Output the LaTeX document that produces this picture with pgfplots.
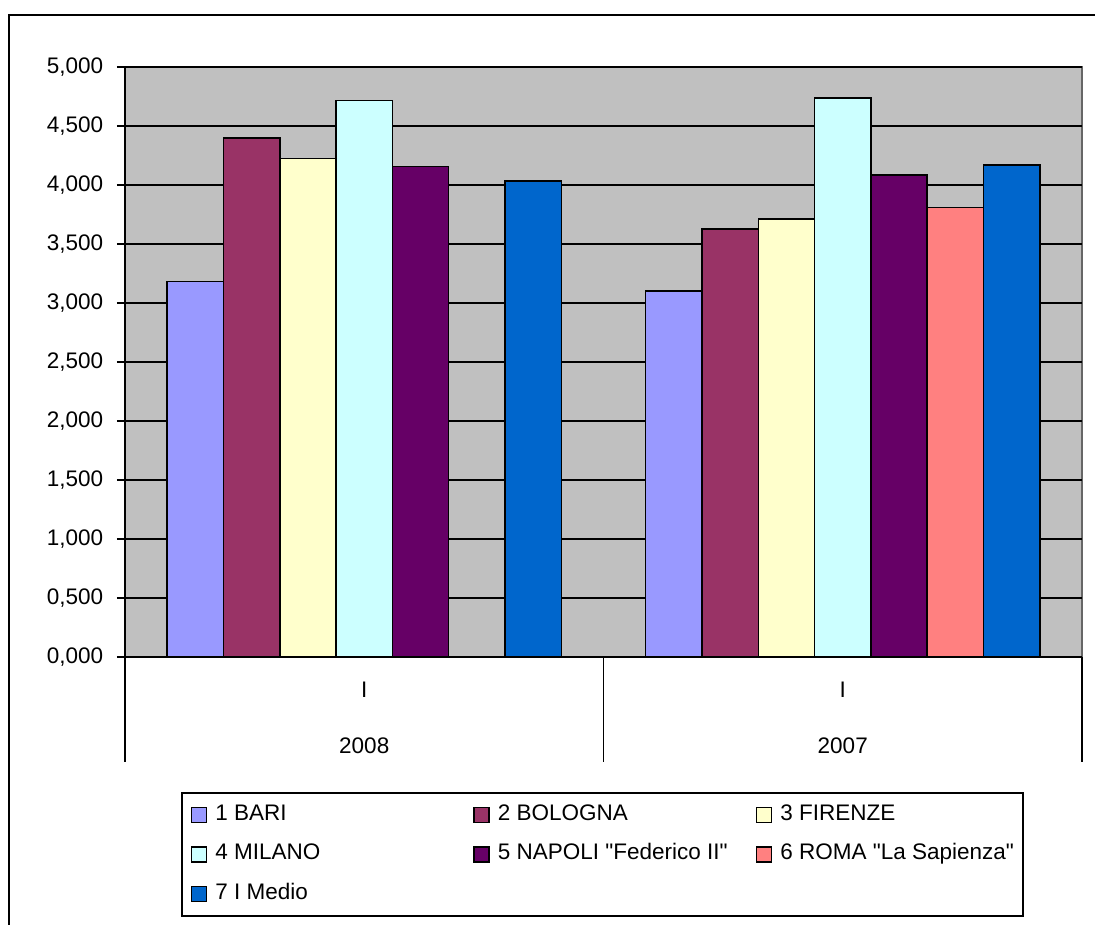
\documentclass[border=0pt]{standalone}
\usepackage{fontspec}
\setmainfont{Liberation Sans}
\usepackage{pgfplots}
\pgfplotsset{compat=1.18}
\newcommand{\dq}{\XeTeXglyph\XeTeXcharglyph34\relax}
\definecolor{cBari}{RGB}{153,153,255}
\definecolor{cBologna}{RGB}{153,51,102}
\definecolor{cFirenze}{RGB}{255,255,204}
\definecolor{cMilano}{RGB}{204,255,255}
\definecolor{cNapoli}{RGB}{102,0,102}
\definecolor{cRoma}{RGB}{255,128,128}
\definecolor{cMedio}{RGB}{0,102,204}
\definecolor{plotgray}{RGB}{192,192,192}
\begin{document}
\begin{tikzpicture}[font=\fontsize{13.5}{16}\selectfont]
\path[use as bounding box] (0,0) rectangle (657pt,555pt);
\draw[line width=1.2pt] (5.4pt,0) -- (5.4pt,546pt) -- (657pt,546pt);
\begin{axis}[
  at={(75pt,160.8pt)}, anchor=south west,
  scale only axis, width=574.2pt, height=354pt,
  xmin=-0.5, xmax=1.5, ymin=0, ymax=5,
  clip=false,
  axis background/.style={fill=plotgray, draw=gray!80!black, line width=0.8pt},
  axis x line*=bottom, axis y line*=left,
  axis line style={-, black, line width=1pt},
  xtick=\empty,
  ytick={0,0.5,...,5},
  ymajorgrids, grid style={black, line width=0.9pt},
  tick align=outside, ytick pos=left,
  major tick length=4.8pt,
  tick style={black, line width=1pt},
  yticklabel style={inner xsep=0pt, xshift=-8.1pt,
    /pgf/number format/.cd, fixed, fixed zerofill, precision=3, use comma, 1000 sep={}, assume math mode=true},
  ybar=0pt, bar width=0.1177,
  every axis plot/.append style={draw=black, line width=0.9pt},
  legend columns=3,
  legend cell align=left,
  legend image code/.code={\draw[#1, line width=0.9pt] (0pt,-4.5pt) rectangle (9pt,4.5pt);},
  legend style={at={(axis description cs:0.0585,-0.2288)}, anchor=north west,
    draw=black, line width=1pt, inner xsep=5.4pt, inner ysep=6.7pt,
    row sep=10.7pt,
    nodes={inner sep=0pt, text height=9.7pt, text depth=3.3pt, line width=0.9pt},
    font=\fontsize{13.5}{16}\selectfont},
]
\addplot[fill=cBari] coordinates {(0,3.183) (1,3.103)};
\addplot[fill=cBologna] coordinates {(0,4.398) (1,3.628)};
\addplot[fill=cFirenze] coordinates {(0,4.224) (1,3.711)};
\addplot[fill=cMilano] coordinates {(0,4.715) (1,4.736)};
\addplot[fill=cNapoli] coordinates {(0,4.155) (1,4.086)};
\addplot[fill=cRoma] coordinates {(1,3.811)};
\addplot[fill=cMedio] coordinates {(0,4.032) (1,4.170)};
\legend{\makebox[159.6pt][l]{\hspace{4.8pt}1 BARI},
        \makebox[159.6pt][l]{\hspace{4.8pt}2 BOLOGNA},
        \hspace{4.8pt}3 FIRENZE,
        \makebox[159.6pt][l]{\hspace{4.8pt}4 MILANO},
        \makebox[159.6pt][l]{\hspace{4.8pt}5 NAPOLI \dq Federico II\dq},
        \hspace{4.8pt}6 ROMA \dq La Sapienza\dq,
        \makebox[159.6pt][l]{\hspace{4.8pt}7 I Medio}}
\draw[black, line width=1pt] (axis cs:-0.5,0) -- ([yshift=-63pt]axis cs:-0.5,0);
\draw[black, line width=1pt] (axis cs:0.5,0) -- ([yshift=-63pt]axis cs:0.5,0);
\draw[black, line width=1pt] (axis cs:1.5,0) -- ([yshift=-63pt]axis cs:1.5,0);
\node at (axis cs:0,0) [yshift=-19.8pt] {I};
\node at (axis cs:1,0) [yshift=-19.8pt] {I};
\node at (axis cs:0,0) [yshift=-53.4pt] {2008};
\node at (axis cs:1,0) [yshift=-53.4pt] {2007};
\end{axis}
\end{tikzpicture}
\end{document}
